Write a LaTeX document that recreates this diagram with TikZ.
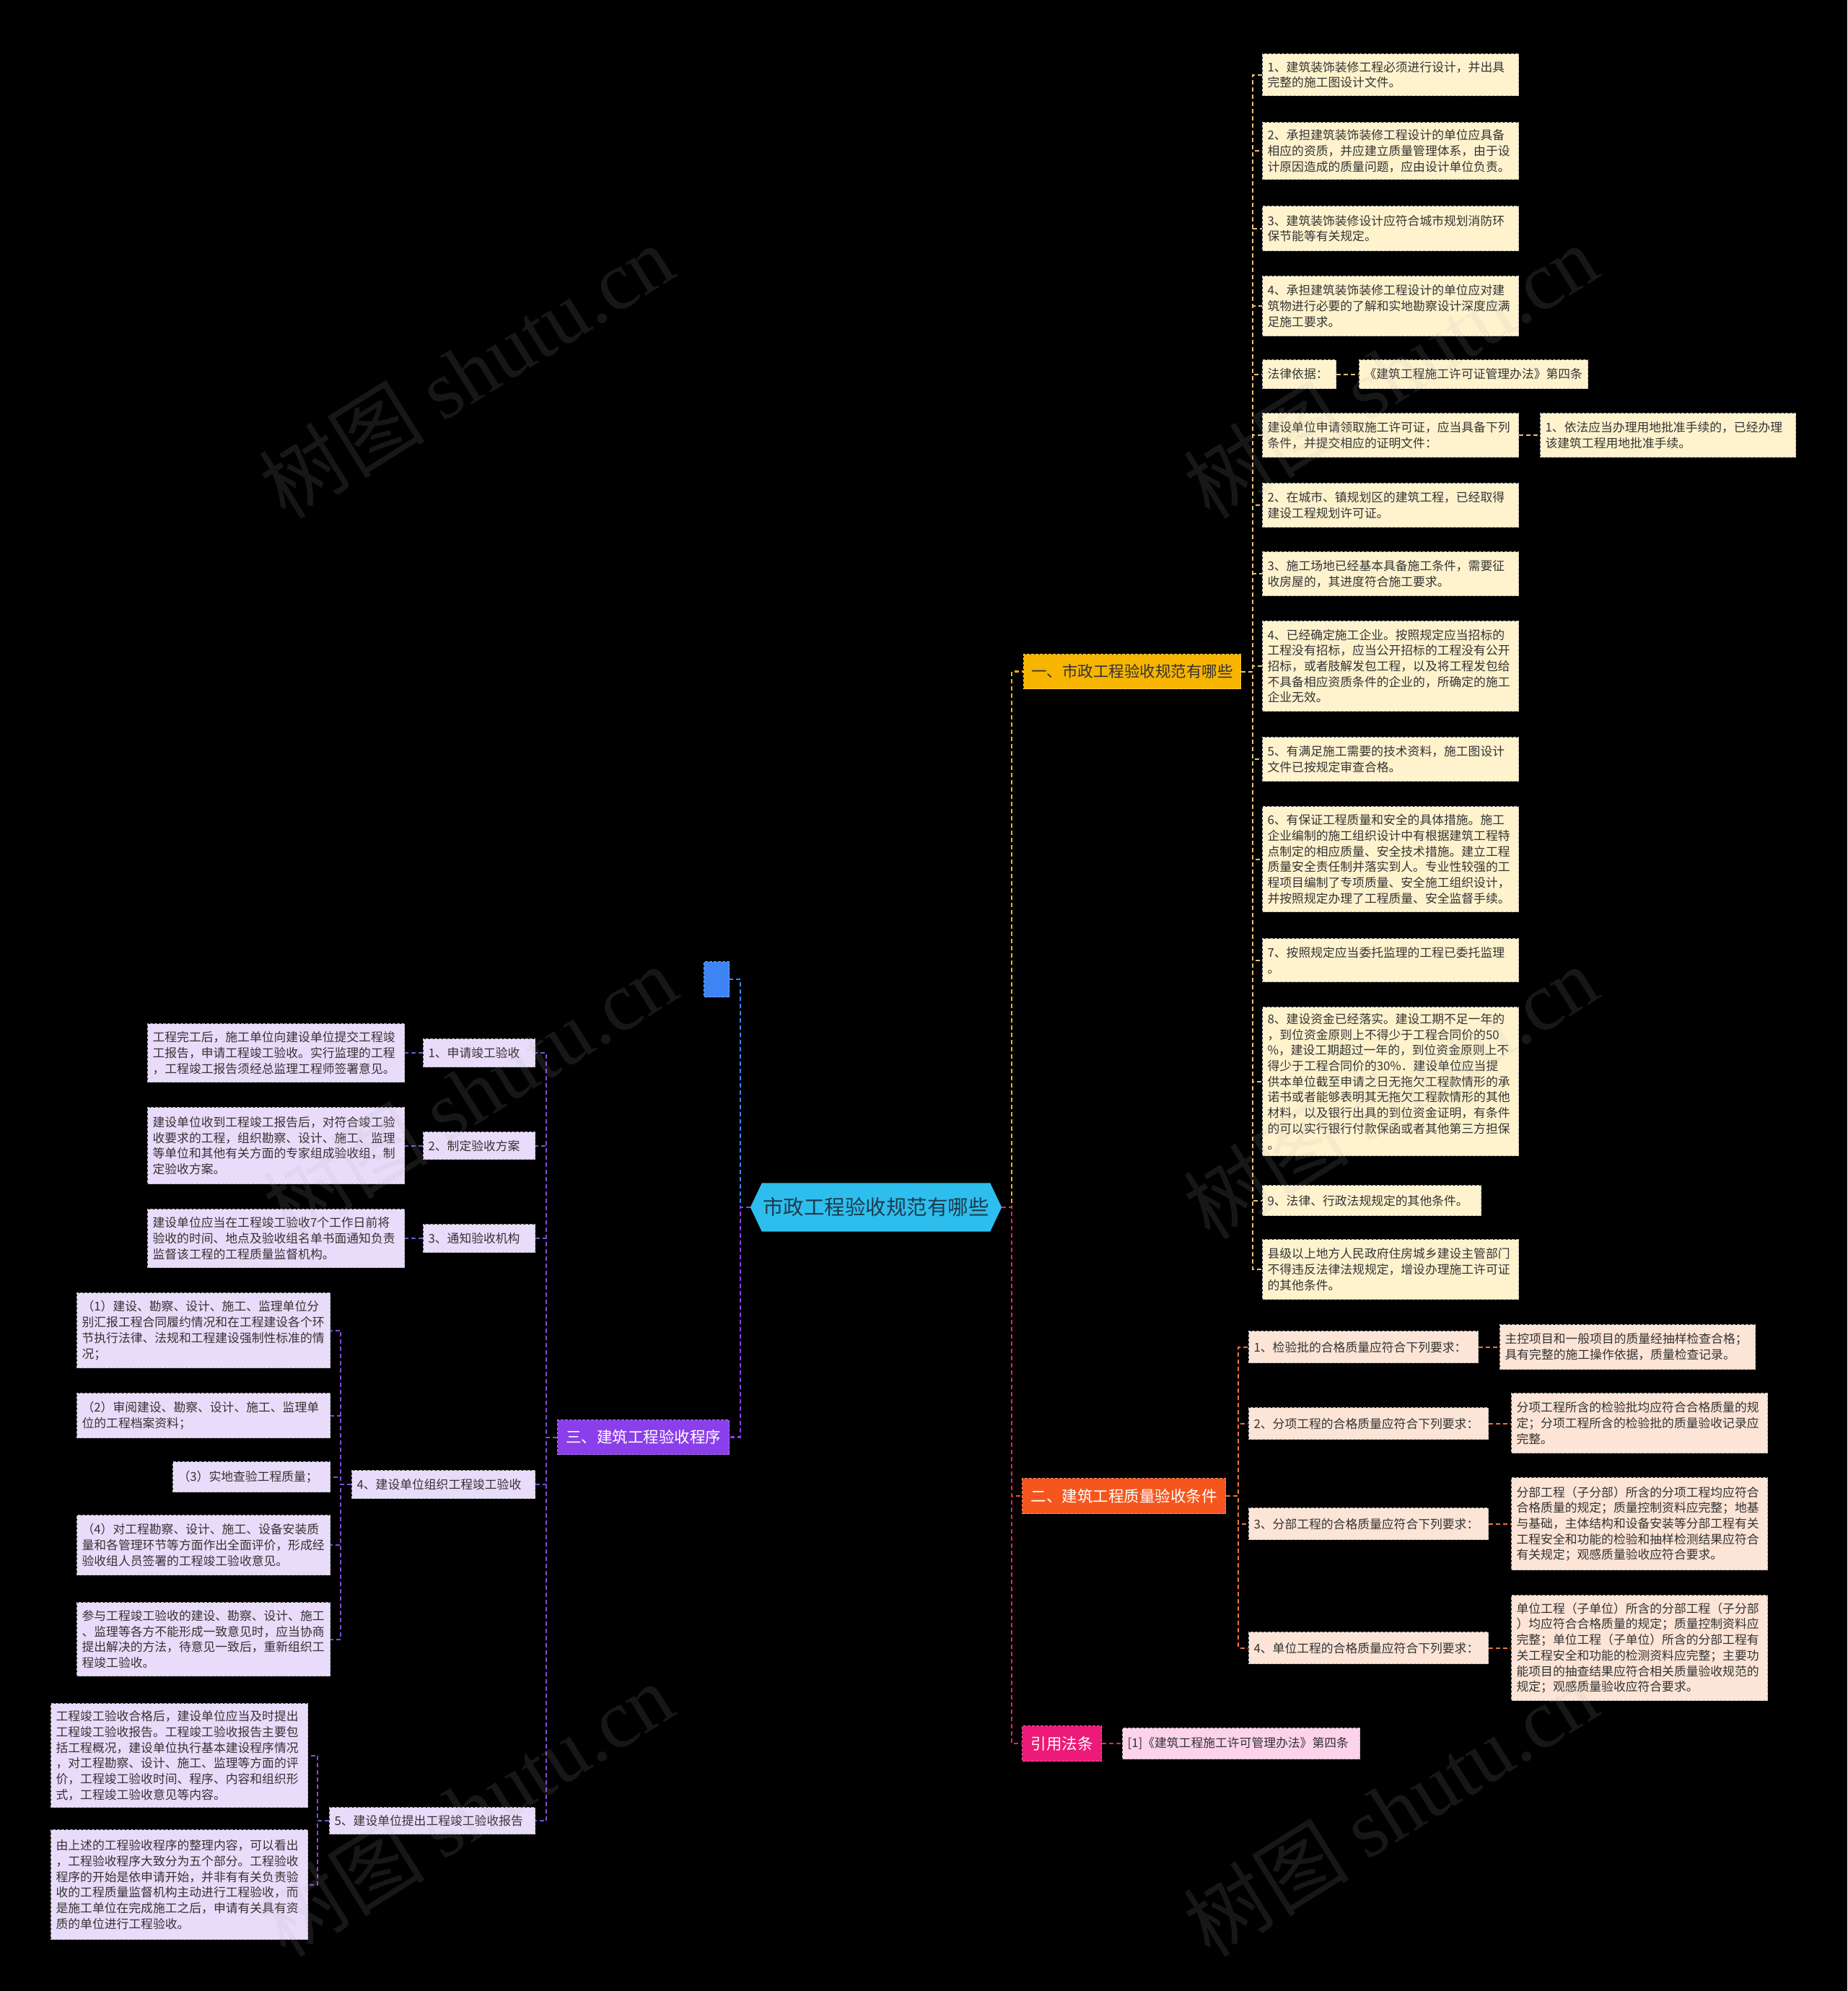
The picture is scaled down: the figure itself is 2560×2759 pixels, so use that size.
\documentclass[tikz,border=0pt]{standalone}
\usepackage{fontspec}
\setmainfont{Noto Sans CJK SC}
\newfontfamily\wmserif{Liberation Serif}
\usetikzlibrary{backgrounds}
\definecolor{rootfill}{HTML}{2DBEEE}
\definecolor{roottext}{HTML}{1E3A4C}
\definecolor{bluefill}{HTML}{3D85F5}
\definecolor{purplefill}{HTML}{8B3FEA}
\definecolor{yellowfill}{HTML}{F7B500}
\definecolor{orangefill}{HTML}{F5561D}
\definecolor{pinkfill}{HTML}{EC1A78}
\definecolor{yleaf}{HTML}{FFF3CE}
\definecolor{oleaf}{HTML}{FCE4D6}
\definecolor{pleaf}{HTML}{FCD3EA}
\definecolor{vleaf}{HTML}{E9DCFA}
\definecolor{leaftext}{HTML}{333333}
\definecolor{leafborder}{HTML}{B8B8B8}
\definecolor{cyellowlt}{HTML}{E9C27A}
\definecolor{corangelt}{HTML}{E8763A}
\definecolor{cpurplelt}{HTML}{7F4FD6}
\begin{document}
\begin{tikzpicture}[x=1pt,y=-1pt,
  leafbox/.style={anchor=north west, inner xsep=7pt, inner ysep=0pt, align=left,
    font=\fontsize{16.8}{21.7}\selectfont, text=leaftext, draw=leafborder,
    dash pattern=on 4pt off 2pt, line width=1.2pt},
  yl/.style={leafbox, fill=yleaf},
  ol/.style={leafbox, fill=oleaf},
  pl/.style={leafbox, fill=pleaf},
  vl/.style={leafbox, fill=vleaf},
  branch/.style={anchor=north west, inner sep=0pt, align=center,
    font=\fontsize{21.5}{26}\selectfont, dash pattern=on 4pt off 2pt, line width=1.2pt},
  conn/.style={line width=2.4pt, dash pattern=on 6pt off 4pt},
  subconn/.style={line width=2pt, dash pattern=on 6pt off 4pt},
  wm/.style={font=\fontsize{115}{120}\selectfont, text=gray!60, opacity=0.13, rotate=32}
]
\begin{scope}[on background layer]
\fill[black] (0,0) rectangle (2560,2759);
\end{scope}
\useasboundingbox (0,0) rectangle (2560,2759);

% root and branches
\node[inner sep=0pt, minimum width=348pt, minimum height=67pt, text=roottext,
  font=\fontsize{28.5}{32}\selectfont] (root) at (1214,1673) {市政工程验收规范有哪些};
\node[branch, fill=bluefill, draw=bluefill!70!white, minimum width=35pt, minimum height=49pt] (blue) at (975,1332) {};
\node[branch, fill=purplefill, draw=purplefill!70!white, text=white, minimum width=238pt, minimum height=48pt] (b3) at (772,1967) {三、建筑工程验收程序};
\node[branch, fill=yellowfill, draw=yellowfill!70!white, text=leaftext, minimum width=301pt, minimum height=48pt] (b1) at (1418,906) {一、市政工程验收规范有哪些};
\node[branch, fill=orangefill, draw=orangefill!70!white, text=white, minimum width=282pt, minimum height=49pt] (b2) at (1416,2048) {二、建筑工程质量验收条件};
\node[branch, fill=pinkfill, draw=pinkfill!70!white, text=white, minimum width=110pt, minimum height=49pt] (cite) at (1416,2391) {引用法条};

% branch 1 leaves
\node[yl, text width=341pt, minimum height=58pt] (y1) at (1749,74) {1、建筑装饰装修工程必须进行设计，并出具\\完整的施工图设计文件。};
\node[yl, text width=341pt, minimum height=79pt] (y2) at (1749,169) {2、承担建筑装饰装修工程设计的单位应具备\\相应的资质，并应建立质量管理体系，由于设\\计原因造成的质量问题，应由设计单位负责。};
\node[yl, text width=341pt, minimum height=62pt] (y3) at (1749,285) {3、建筑装饰装修设计应符合城市规划消防环\\保节能等有关规定。};
\node[yl, text width=341pt, minimum height=83pt] (y4) at (1749,382) {4、承担建筑装饰装修工程设计的单位应对建\\筑物进行必要的了解和实地勘察设计深度应满\\足施工要求。};
\node[yl, text width=88pt, minimum height=40pt] (y5) at (1749,498) {法律依据：};
\node[yl, text width=303pt, minimum height=40pt] (y5a) at (1883,498) {《建筑工程施工许可证管理办法》第四条};
\node[yl, text width=341pt, minimum height=61pt] (y6) at (1749,572) {建设单位申请领取施工许可证，应当具备下列\\条件，并提交相应的证明文件：};
\node[yl, text width=340pt, minimum height=61pt] (y6a) at (2134,572) {1、依法应当办理用地批准手续的，已经办理\\该建筑工程用地批准手续。};
\node[yl, text width=341pt, minimum height=61pt] (y7) at (1749,669) {2、在城市、镇规划区的建筑工程，已经取得\\建设工程规划许可证。};
\node[yl, text width=341pt, minimum height=61pt] (y8) at (1749,764) {3、施工场地已经基本具备施工条件，需要征\\收房屋的，其进度符合施工要求。};
\node[yl, text width=341pt, minimum height=125pt] (y9) at (1749,860) {4、已经确定施工企业。按照规定应当招标的\\工程没有招标，应当公开招标的工程没有公开\\招标，或者肢解发包工程，以及将工程发包给\\不具备相应资质条件的企业的，所确定的施工\\企业无效。};
\node[yl, text width=341pt, minimum height=61pt] (y10) at (1749,1021) {5、有满足施工需要的技术资料，施工图设计\\文件已按规定审查合格。};
\node[yl, text width=341pt, minimum height=146pt] (y11) at (1749,1117) {6、有保证工程质量和安全的具体措施。施工\\企业编制的施工组织设计中有根据建筑工程特\\点制定的相应质量、安全技术措施。建立工程\\质量安全责任制并落实到人。专业性较强的工\\程项目编制了专项质量、安全施工组织设计，\\并按照规定办理了工程质量、安全监督手续。};
\node[yl, text width=341pt, minimum height=60pt] (y12) at (1749,1300) {7、按照规定应当委托监理的工程已委托监理\\。};
\node[yl, text width=341pt, minimum height=206pt] (y13) at (1749,1395) {8、建设资金已经落实。建设工期不足一年的\\，到位资金原则上不得少于工程合同价的50\\\%，建设工期超过一年的，到位资金原则上不\\得少于工程合同价的30\%．建设单位应当提\\供本单位截至申请之日无拖欠工程款情形的承\\诺书或者能够表明其无拖欠工程款情形的其他\\材料，以及银行出具的到位资金证明，有条件\\的可以实行银行付款保函或者其他第三方担保\\。};
\node[yl, text width=289pt, minimum height=42pt] (y14) at (1749,1642) {9、法律、行政法规规定的其他条件。};
\node[yl, text width=341pt, minimum height=83pt] (y15) at (1749,1717) {县级以上地方人民政府住房城乡建设主管部门\\不得违反法律法规规定，增设办理施工许可证\\的其他条件。};

% branch 2 leaves
\node[ol, text width=304pt, minimum height=44pt] (o1) at (1730,1844) {1、检验批的合格质量应符合下列要求：};
\node[ol, text width=340pt, minimum height=62pt] (o1a) at (2078,1835) {主控项目和一般项目的质量经抽样检查合格；\\具有完整的施工操作依据，质量检查记录。};
\node[ol, text width=318pt, minimum height=44pt] (o2) at (1730,1950) {2、分项工程的合格质量应符合下列要求：};
\node[ol, text width=341pt, minimum height=83pt] (o2a) at (2094,1930) {分项工程所含的检验批均应符合合格质量的规\\定；分项工程所含的检验批的质量验收记录应\\完整。};
\node[ol, text width=318pt, minimum height=44pt] (o3) at (1730,2089) {3、分部工程的合格质量应符合下列要求：};
\node[ol, text width=341pt, minimum height=128pt] (o3a) at (2094,2047) {分部工程（子分部）所含的分项工程均应符合\\合格质量的规定；质量控制资料应完整；地基\\与基础，主体结构和设备安装等分部工程有关\\工程安全和功能的检验和抽样检测结果应符合\\有关规定；观感质量验收应符合要求。};
\node[ol, text width=318pt, minimum height=44pt] (o4) at (1730,2261) {4、单位工程的合格质量应符合下列要求：};
\node[ol, text width=341pt, minimum height=146pt] (o4a) at (2094,2210) {单位工程（子单位）所含的分部工程（子分部\\）均应符合合格质量的规定；质量控制资料应\\完整；单位工程（子单位）所含的分部工程有\\关工程安全和功能的检测资料应完整；主要功\\能项目的抽查结果应符合相关质量验收规范的\\规定；观感质量验收应符合要求。};

% cite leaf
\node[pl, text width=315pt, minimum height=43pt] (citeleaf) at (1555,2394) {[1]《建筑工程施工许可管理办法》第四条};

% branch 3 leaves
\node[vl, text width=141pt, minimum height=39pt] (p1) at (586,1439) {1、申请竣工验收};
\node[vl, text width=342pt, minimum height=81pt] (p1a) at (204,1418) {工程完工后，施工单位向建设单位提交工程竣\\工报告，申请工程竣工验收。实行监理的工程\\，工程竣工报告须经总监理工程师签署意见。};
\node[vl, text width=141pt, minimum height=38pt] (p2) at (586,1568) {2、制定验收方案};
\node[vl, text width=342pt, minimum height=106pt] (p2a) at (204,1534) {建设单位收到工程竣工报告后，对符合竣工验\\收要求的工程，组织勘察、设计、施工、监理\\等单位和其他有关方面的专家组成验收组，制\\定验收方案。};
\node[vl, text width=141pt, minimum height=39pt] (p3) at (586,1696) {3、通知验收机构};
\node[vl, text width=342pt, minimum height=81pt] (p3a) at (204,1675) {建设单位应当在工程竣工验收7个工作日前将\\验收的时间、地点及验收组名单书面通知负责\\监督该工程的工程质量监督机构。};
\node[vl, text width=240pt, minimum height=39pt] (p4) at (487,2037) {4、建设单位组织工程竣工验收};
\node[vl, text width=337pt, minimum height=104pt] (q1) at (106,1791) {（1）建设、勘察、设计、施工、监理单位分\\别汇报工程合同履约情况和在工程建设各个环\\节执行法律、法规和工程建设强制性标准的情\\况；};
\node[vl, text width=337pt, minimum height=62pt] (q2) at (106,1930) {（2）审阅建设、勘察、设计、施工、监理单\\位的工程档案资料；};
\node[vl, text width=204pt, minimum height=42pt] (q3) at (239,2025) {（3）实地查验工程质量；};
\node[vl, text width=337pt, minimum height=83pt] (q4) at (106,2099) {（4）对工程勘察、设计、施工、设备安装质\\量和各管理环节等方面作出全面评价，形成经\\验收组人员签署的工程竣工验收意见。};
\node[vl, text width=337pt, minimum height=102pt] (q5) at (106,2220) {参与工程竣工验收的建设、勘察、设计、施工\\、监理等各方不能形成一致意见时，应当协商\\提出解决的方法，待意见一致后，重新组织工\\程竣工验收。};
\node[vl, text width=271pt, minimum height=37pt] (p5) at (456,2504) {5、建设单位提出工程竣工验收报告};
\node[vl, text width=342pt, minimum height=144pt] (r1) at (70,2360) {工程竣工验收合格后，建设单位应当及时提出\\工程竣工验收报告。工程竣工验收报告主要包\\括工程概况，建设单位执行基本建设程序情况\\，对工程勘察、设计、施工、监理等方面的评\\价，工程竣工验收时间、程序、内容和组织形\\式，工程竣工验收意见等内容。};
\node[vl, text width=342pt, minimum height=152pt] (r2) at (70,2535) {由上述的工程验收程序的整理内容，可以看出\\，工程验收程序大致分为五个部分。工程验收\\程序的开始是依申请开始，并非有有关负责验\\收的工程质量监督机构主动进行工程验收，而\\是施工单位在完成施工之后，申请有关具有资\\质的单位进行工程验收。};

\begin{scope}[on background layer]
% root hexagon
\fill[rootfill] ([xshift=16pt]root.north west) -- ([xshift=-16pt]root.north east) -- (root.east)
  -- ([xshift=-16pt]root.south east) -- ([xshift=16pt]root.south west) -- (root.west) -- cycle;
% root connectors
\draw[conn, bluefill] (root.west) -- ++(-14,0) |- (blue.east);
\draw[conn, purplefill] (root.west) -- ++(-14,0) |- (b3.east);
\draw[conn, yellowfill] (root.east) -- ++(14,0) |- (b1.west);
\draw[conn, orangefill] (root.east) -- ++(14,0) |- (b2.west);
\draw[conn, pinkfill] (root.east) -- ++(14,0) |- (cite.west);
% branch 1
\foreach \n in {y1,y2,y3,y4,y5,y6,y7,y8,y9,y10,y11,y12,y13,y14,y15}
  \draw[subconn, cyellowlt] (b1.east) -- ++(16,0) |- (\n.west);
\draw[subconn, cyellowlt] (y5.east) -- (y5.east -| y5a.west);
\draw[subconn, cyellowlt] (y6.east) -- (y6.east -| y6a.west);
% branch 2
\foreach \n in {o1,o2,o3,o4}
  \draw[subconn, corangelt] (b2.east) -- ++(17,0) |- (\n.west);
\foreach \n in {o1,o2,o3,o4}
  \draw[subconn, corangelt] (\n.east) -- (\n.east -| \n a.west);
% cite
\draw[subconn, pinkfill] (cite.east) -- (cite.east -| citeleaf.west);
% branch 3
\foreach \n in {p1,p2,p3,p4,p5}
  \draw[subconn, cpurplelt] (b3.west) -- ++(-15,0) |- (\n.east);
\foreach \n in {p1,p2,p3}
  \draw[subconn, cpurplelt] (\n.west) -- (\n.west -| \n a.east);
\foreach \n in {q1,q2,q3,q4,q5}
  \draw[subconn, cpurplelt] (p4.west) -- ++(-15,0) |- (\n.east);
\foreach \n in {r1,r2}
  \draw[subconn, cpurplelt] (p5.west) -- ++(-16,0) |- (\n.east);
\end{scope}

% watermarks
\node[wm] (wm1) at (646,514) {树图 {\wmserif shutu.cn}};
\node[wm] (wm2) at (1927,514) {树图 {\wmserif shutu.cn}};
\node[wm] (wm3) at (651,1513) {树图 {\wmserif shutu.cn}};
\node[wm] (wm4) at (1927,1513) {树图 {\wmserif shutu.cn}};
\node[wm] (wm5) at (646,2507) {树图 {\wmserif shutu.cn}};
\node[wm] (wm6) at (1927,2507) {树图 {\wmserif shutu.cn}};
\end{tikzpicture}
\end{document}
